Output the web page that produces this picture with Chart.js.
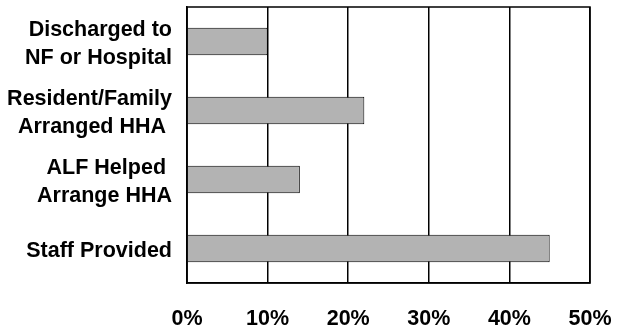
<!DOCTYPE html>
<html>
<head>
    <title>Home Health Arrangements</title>
    <script src="https://cdn.jsdelivr.net/npm/chart.js"></script>
    <style>
        html, body { margin: 0; padding: 0; background: #fff; }
        #wrap { width: 619px; height: 332px; }
    </style>
</head>
<body>
<div id="wrap"><canvas id="hhaChart" width="619" height="332"></canvas></div>

<script>
    // categories (multi-line labels) and percentages
    const categories = [
      ['Discharged to', 'NF or Hospital'],
      ['Resident/Family', 'Arranged HHA '],
      ['ALF Helped ', 'Arrange HHA'],
      'Staff Provided'
    ];
    const percents = [10, 22, 14, 45];
    const xTicks = [0, 10, 20, 30, 40, 50];

    const FONT = { family: '"Liberation Sans", Arial, sans-serif', size: 21.5, weight: 'bold', lineHeight: 1.34 };

    // outline the plot area (top + right edges)
    const frame = {
      id: 'frame',
      afterDraw(chart) {
        const a = chart.chartArea, ctx = chart.ctx;
        ctx.save();
        ctx.strokeStyle = '#000';
        ctx.lineWidth = 1.5;
        ctx.strokeRect(a.left, a.top, a.right - a.left, a.bottom - a.top);
        ctx.restore();
      }
    };

    new Chart(document.getElementById('hhaChart').getContext('2d'), {
      type: 'bar',
      data: {
        labels: categories,
        datasets: [{
          data: percents,
          backgroundColor: '#b3b3b3',
          borderColor: '#000',
          borderWidth: 1,
          barPercentage: 0.4,
          categoryPercentage: 1
        }]
      },
      options: {
        indexAxis: 'y',
        responsive: false,
        animation: false,
        layout: { padding: { top: 7, right: 29, left: 0, bottom: 0 } },
        plugins: { legend: { display: false }, tooltip: { enabled: false } },
        scales: {
          x: {
            min: 0,
            max: 50,
            afterBuildTicks: s => { s.ticks = xTicks.map(v => ({ value: v })); },
            afterFit: s => { s.height = 49; s.paddingLeft = 0; s.paddingRight = 0; },
            ticks: {
              color: '#000',
              font: FONT,
              padding: 22,
              callback: v => v + '%'
            },
            grid: { color: '#000', lineWidth: 1.5, drawTicks: false },
            border: { color: '#000', width: 1.5 }
          },
          y: {
            afterFit: s => { s.width = 187; s.paddingTop = 0; s.paddingBottom = 0; },
            ticks: { color: '#000', font: FONT, padding: 15, labelOffset: 2.5 },
            grid: { display: false, drawTicks: false },
            border: { color: '#000', width: 1.5 }
          }
        }
      },
      plugins: [frame]
    });
</script>
</body>
</html>
